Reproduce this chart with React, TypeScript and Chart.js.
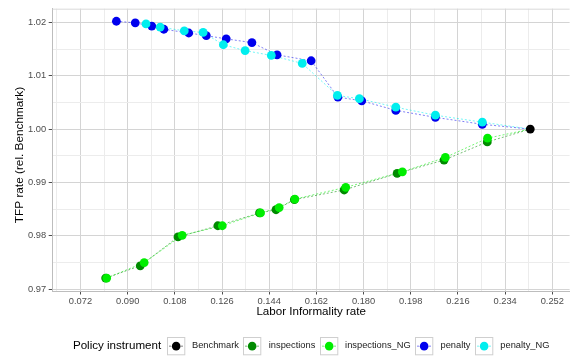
import React, { useEffect, useRef } from "react";
import { Chart, registerables } from "chart.js";

Chart.register(...registerables);

// ---------- data ----------
const seriesNames = ["Benchmark", "inspections", "inspections_NG", "penalty", "penalty_NG"];
const seriesColors = ["#000000", "#008B00", "#00EE00", "#0000EE", "#00EEEE"];
const lineColors = ["rgba(0,0,0,0.5)", "rgba(0,139,0,0.55)", "rgba(0,238,0,0.55)", "rgba(0,0,238,0.5)", "rgba(0,238,238,0.55)"];

const benchmarkX = [0.2436];
const benchmarkY = [1.0];

const inspectionsX = [0.0816, 0.0948, 0.1092, 0.1244, 0.1403, 0.1466, 0.1536, 0.1726, 0.1928, 0.2107, 0.2272];
const inspectionsY = [0.9721, 0.9744, 0.9798, 0.9819, 0.9843, 0.9849, 0.9868, 0.9886, 0.9917, 0.9942, 0.9976];

const inspectionsNgX = [0.0820, 0.0963, 0.1108, 0.1261, 0.1407, 0.1478, 0.1538, 0.1732, 0.1948, 0.2112, 0.2273];
const inspectionsNgY = [0.9721, 0.9750, 0.9801, 0.9819, 0.9843, 0.9853, 0.9869, 0.9891, 0.9920, 0.9947, 0.9983];

const penaltyX = [0.0857, 0.0929, 0.0992, 0.1038, 0.1133, 0.1200, 0.1276, 0.1374, 0.1470, 0.1600, 0.1702, 0.1793, 0.1923, 0.2074, 0.2253];
const penaltyY = [1.0202, 1.0199, 1.0193, 1.0187, 1.0180, 1.0175, 1.0169, 1.0162, 1.0139, 1.0128, 1.0060, 1.0053, 1.0035, 1.0022, 1.0009];

const penaltyNgX = [0.0970, 0.1024, 0.1116, 0.1188, 0.1265, 0.1348, 0.1448, 0.1566, 0.1700, 0.1784, 0.1923, 0.2074, 0.2253];
const penaltyNgY = [1.0197, 1.0191, 1.0184, 1.0181, 1.0158, 1.0147, 1.0138, 1.0123, 1.0063, 1.0057, 1.0041, 1.0026, 1.0013];

const xMajorTicks = [0.072, 0.09, 0.108, 0.126, 0.144, 0.162, 0.18, 0.198, 0.216, 0.234, 0.252];
const yMajorTicks = [0.97, 0.98, 0.99, 1.0, 1.01, 1.02];

const xTitle = "Labor Informality rate";
const yTitle = "TFP rate (rel. Benchmark)";
const legendTitle = "Policy instrument";

// ---------- helpers ----------
const xMin = 0.0614, xMax = 0.2586;
const yMin = 0.96968, yMax = 1.02255;

function withMinor(major: number[], lo: number, hi: number) {
  const step = major[1] - major[0];
  const out: number[] = [];
  const first = major[0] - step / 2;
  for (let i = 0; i <= major.length * 2 + 2; i++) {
    const v = first + (i * step) / 2;
    if (v >= lo - 1e-9 && v <= hi + 1e-9) out.push(v);
  }
  return out;
}
const isMajor = (v: number, major: number[]) => major.some((m) => Math.abs(m - v) < 1e-7);

const FONT = "'Liberation Sans', Arial, sans-serif";

const pts = (xs: number[], ys: number[]) => xs.map((x, i) => ({ x, y: ys[i] }));

const allSeries = [
  pts(benchmarkX, benchmarkY),
  pts(inspectionsX, inspectionsY),
  pts(inspectionsNgX, inspectionsNgY),
  pts(penaltyX, penaltyY),
  pts(penaltyNgX, penaltyNgY),
];

const legendPlugin = {
  id: "ggLegend",
  afterDraw(chart: any) {
    const ctx = chart.ctx as CanvasRenderingContext2D;
    const ca = chart.chartArea;
    ctx.save();
    // top panel border line
    ctx.strokeStyle = "#d9d9d9";
    ctx.lineWidth = 1;
    ctx.beginPath();
    ctx.moveTo(ca.left, ca.top + 0.5);
    ctx.lineTo(ca.right, ca.top + 0.5);
    ctx.stroke();

    // y axis title
    ctx.save();
    ctx.translate(20, 155);
    ctx.rotate(-Math.PI / 2);
    ctx.font = `11.8px ${FONT}`;
    ctx.fillStyle = "#000";
    ctx.textAlign = "center";
    ctx.textBaseline = "middle";
    ctx.fillText(yTitle, 0, 0);
    ctx.restore();

    const titleFont = `11.6px ${FONT}`;
    const labelFont = `9.3px ${FONT}`;
    const box = 17.3;
    const gapTitle = 5.5;
    const gapBoxLabel = 8;
    const gapItem = 4.5;
    ctx.font = titleFont;
    const tW = ctx.measureText(legendTitle).width;
    ctx.font = labelFont;
    const lW = seriesNames.map((n) => ctx.measureText(n).width);
    let total = tW + gapTitle;
    lW.forEach((w, i) => {
      total += box + gapBoxLabel + w + (i < lW.length - 1 ? gapItem : 0);
    });
    const cy = 345.3;
    let x = (ca.left + ca.right) / 2 - total / 2;
    ctx.textBaseline = "middle";
    ctx.textAlign = "left";
    ctx.fillStyle = "#000";
    ctx.font = titleFont;
    ctx.fillText(legendTitle, x, cy);
    x += tW + gapTitle;
    seriesNames.forEach((n, i) => {
      const bx = Math.round(x) + 0.5;
      const by = Math.round(cy - box / 2) + 0.5;
      ctx.fillStyle = "#ffffff";
      ctx.fillRect(bx, by, box, box);
      ctx.strokeStyle = "#cfcfcf";
      ctx.lineWidth = 1;
      ctx.setLineDash([]);
      ctx.strokeRect(bx, by, box, box);
      ctx.strokeStyle = lineColors[i];
      ctx.setLineDash([2, 2]);
      ctx.beginPath();
      ctx.moveTo(bx + 1.5, by + box / 2);
      ctx.lineTo(bx + box - 1.5, by + box / 2);
      ctx.stroke();
      ctx.setLineDash([]);
      ctx.fillStyle = seriesColors[i];
      ctx.beginPath();
      ctx.arc(bx + box / 2, by + box / 2, 4.3, 0, Math.PI * 2);
      ctx.fill();
      x += box + gapBoxLabel;
      ctx.font = labelFont;
      ctx.fillStyle = "#1a1a1a";
      ctx.fillText(n, x, cy);
      x += lW[i] + gapItem;
    });
    ctx.restore();
  },
};

export default function App() {
  const ref = useRef<HTMLCanvasElement | null>(null);
  useEffect(() => {
    document.body.style.margin = "0";
    if (!ref.current) return;
    const xTicks = withMinor(xMajorTicks, xMin, xMax);
    const yTicks = withMinor(yMajorTicks, yMin, yMax);

    const lineSets = allSeries.slice(1).map((d, k) => {
      const i = k + 1;
      return {
        type: "scatter" as const,
        label: seriesNames[i] + "_line",
        data: [...d, ...allSeries[0]],
        showLine: true,
        borderColor: lineColors[i],
        borderWidth: 1,
        borderDash: [2, 2],
        pointRadius: 0,
        pointHoverRadius: 0,
        order: 100,
      };
    });
    const pointSets = allSeries.map((d, i) => ({
      type: "scatter" as const,
      label: seriesNames[i],
      data: d,
      showLine: false,
      backgroundColor: seriesColors[i],
      borderColor: seriesColors[i],
      borderWidth: 0,
      pointRadius: 4.4,
      order: 10 - i,
    }));

    const chart = new Chart(ref.current, {
      type: "scatter",
      data: { datasets: [...lineSets, ...pointSets] as any },
      options: {
        animation: false,
        responsive: false,
        devicePixelRatio: 1,
        layout: { padding: { top: 8.7, right: 0, left: 0, bottom: 0 } },
        plugins: { legend: { display: false }, tooltip: { enabled: false } },
        scales: {
          x: {
            type: "linear",
            min: xMin,
            max: xMax,
            afterBuildTicks: (s: any) => {
              s.ticks = xTicks.map((v) => ({ value: v }));
            },
            afterFit: (s: any) => {
              s.height = 68;
            },
            ticks: {
              autoSkip: false,
              maxRotation: 0,
              padding: 1,
              color: "#4d4d4d",
              font: { family: FONT, size: 9.3 },
              callback: (v: any) => (isMajor(Number(v), xMajorTicks) ? Number(v).toFixed(3) : ""),
            },
            grid: {
              color: (c: any) => (c.tick && isMajor(c.tick.value, xMajorTicks) ? "#d4d4d4" : "#ececec"),
              tickColor: (c: any) => (c.tick && isMajor(c.tick.value, xMajorTicks) ? "#4d4d4d" : "rgba(0,0,0,0)"),
              tickLength: 3.5,
              lineWidth: 1,
            },
            border: { display: true, color: "#bdbdbd", width: 1 },
            title: {
              display: true,
              text: xTitle,
              color: "#000",
              font: { family: FONT, size: 11.6 },
              padding: { top: 0, bottom: 40 },
            },
          },
          y: {
            type: "linear",
            min: yMin,
            max: yMax,
            afterBuildTicks: (s: any) => {
              s.ticks = yTicks.map((v) => ({ value: v }));
            },
            afterFit: (s: any) => {
              s.width = 52.7;
            },
            ticks: {
              autoSkip: false,
              padding: 2.5,
              color: "#4d4d4d",
              font: { family: FONT, size: 9.3 },
              callback: (v: any) => (isMajor(Number(v), yMajorTicks) ? Number(v).toFixed(2) : ""),
            },
            grid: {
              color: (c: any) => (c.tick && isMajor(c.tick.value, yMajorTicks) ? "#d4d4d4" : "#ececec"),
              tickColor: (c: any) => (c.tick && isMajor(c.tick.value, yMajorTicks) ? "#4d4d4d" : "rgba(0,0,0,0)"),
              tickLength: 4,
              lineWidth: 1,
            },
            border: { display: true, color: "#bdbdbd", width: 1 },
            title: { display: false },
          },
        },
      },
      plugins: [legendPlugin],
    });
    return () => chart.destroy();
  }, []);
  return (
    <div style={{ position: "absolute", left: 0, top: 0, width: 574, height: 359, background: "#fff" }}>
      <canvas ref={ref} width={574} height={359} style={{ width: 574, height: 359, display: "block" }} />
    </div>
  );
}
